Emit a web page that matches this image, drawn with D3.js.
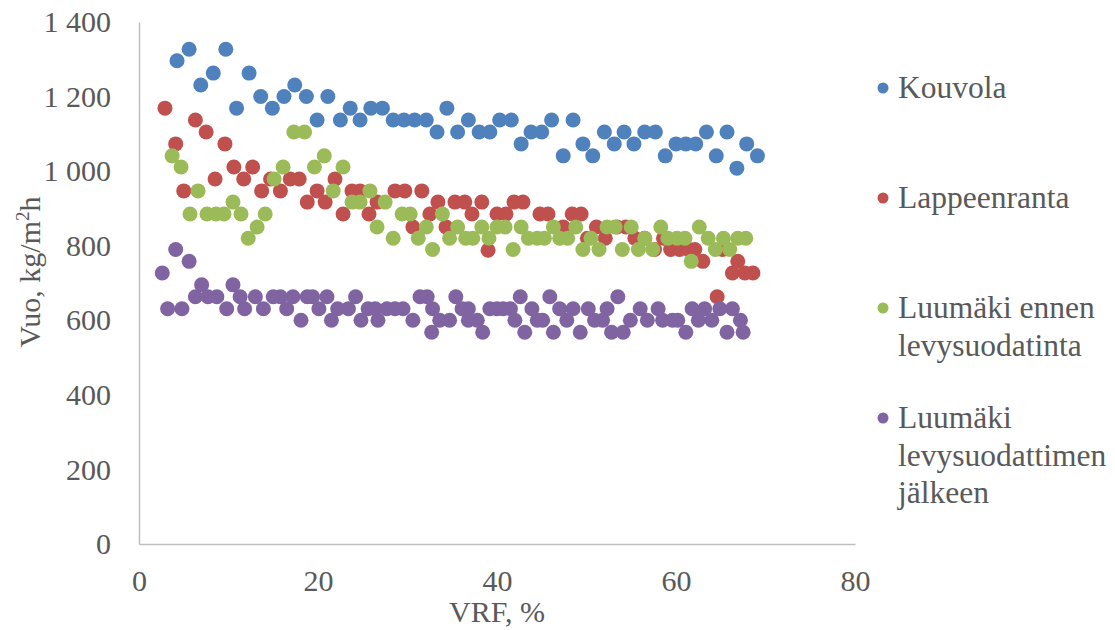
<!DOCTYPE html>
<html>
<head>
<meta charset="utf-8">
<script src="https://cdn.jsdelivr.net/npm/d3@7"></script>
<style>
  body { margin: 0; background: #fff; }
</style>
</head>
<body>
<svg id="chart" width="1115" height="630"></svg>
<script>
// VRF % / flux kg/m2h
const kouvola = [
  [4.25, 1296], [5.6, 1327], [6.9, 1231], [8.3, 1263], [9.7, 1327], [10.9, 1169], [12.3, 1263],
  [13.6, 1200], [14.9, 1169], [16.2, 1200], [17.4, 1231], [18.7, 1200], [19.9, 1137], [21.1, 1200],
  [22.5, 1137], [23.6, 1169], [24.7, 1137], [25.9, 1169], [27.2, 1169], [28.4, 1137], [29.6, 1137],
  [30.8, 1137], [32.1, 1137], [33.3, 1105], [34.4, 1169], [35.6, 1105], [36.8, 1137], [38.0, 1105],
  [39.2, 1105], [40.3, 1137], [41.6, 1137], [42.7, 1073], [43.8, 1105], [45.0, 1105], [46.1, 1137],
  [47.4, 1041], [48.5, 1137], [49.6, 1073], [50.7, 1041], [52.0, 1105], [53.1, 1073], [54.2, 1105],
  [55.3, 1073], [56.5, 1105], [57.7, 1105], [58.8, 1041], [60.0, 1073], [61.1, 1073], [62.2, 1073],
  [63.4, 1105], [64.5, 1041], [65.7, 1105], [66.8, 1008], [67.9, 1073], [69.1, 1041]
];

const lappeenranta = [
  [2.9, 1169], [4.1, 1073], [5.0, 947], [6.3, 1137], [7.5, 1105], [8.5, 979], [9.6, 1073],
  [10.6, 1011], [11.7, 979], [12.7, 1011], [13.7, 947], [14.7, 979], [15.8, 947], [16.9, 979],
  [17.9, 979], [18.8, 917], [19.9, 947], [20.8, 917], [21.9, 979], [22.8, 885], [23.8, 947],
  [24.7, 947], [25.7, 885], [26.6, 917], [28.6, 947], [29.7, 947], [30.6, 850], [31.6, 947],
  [32.5, 885], [33.4, 917], [34.3, 850], [35.3, 917], [36.4, 917], [37.2, 885], [38.3, 917],
  [39.0, 788], [40.0, 885], [41.0, 885], [41.9, 917], [42.9, 917], [44.8, 885], [45.7, 885],
  [47.4, 850], [48.4, 885], [49.4, 885], [50.1, 820], [51.1, 850], [52.1, 820], [53.4, 850],
  [54.4, 850], [55.4, 820], [56.5, 820], [57.6, 790], [58.6, 820], [59.4, 790], [60.4, 790],
  [61.4, 790], [62.1, 790], [63.0, 758], [64.6, 663], [65.2, 790], [66.3, 727], [66.9, 758],
  [67.7, 727], [68.6, 727]
];

const luumakiEnnen = [
  [3.7, 1041], [4.7, 1011], [5.7, 885], [6.6, 947], [7.6, 885], [8.6, 885], [9.5, 885],
  [10.5, 917], [11.4, 885], [12.2, 820], [13.2, 850], [14.1, 885], [15.1, 979], [16.1, 1011],
  [17.3, 1105], [18.5, 1105], [19.6, 1011], [20.7, 1041], [21.7, 947], [22.8, 1011], [23.8, 917],
  [24.7, 917], [25.8, 947], [26.6, 850], [27.5, 917], [28.4, 820], [29.4, 885], [30.3, 885],
  [31.2, 820], [32.1, 850], [32.8, 790], [33.9, 885], [34.7, 820], [35.6, 850], [36.5, 820],
  [37.3, 820], [38.3, 850], [39.1, 820], [40.0, 850], [40.9, 850], [41.8, 790], [42.7, 850],
  [43.5, 820], [44.5, 820], [45.3, 820], [46.3, 850], [47.0, 820], [47.9, 820], [48.8, 850],
  [49.6, 790], [50.5, 820], [51.4, 790], [52.3, 850], [53.2, 850], [54.0, 790], [55.0, 850],
  [55.8, 790], [56.5, 820], [57.4, 790], [58.3, 850], [59.1, 820], [60.1, 820], [61.0, 820],
  [61.7, 758], [62.6, 850], [63.6, 820], [64.4, 790], [65.3, 820], [66.0, 790], [66.9, 820],
  [67.8, 820]
];

const luumakiJalkeen = [
  [2.6, 727], [3.2, 631], [4.1, 790], [4.8, 631], [5.6, 758], [6.3, 663], [7.0, 695], [7.7, 663],
  [8.7, 663], [9.8, 631], [10.5, 695], [11.3, 663], [11.8, 631], [13.0, 663], [13.9, 631],
  [15.0, 663], [15.8, 663], [16.5, 631], [17.2, 663], [18.1, 600], [18.8, 663], [19.4, 663],
  [20.1, 631], [21.0, 663], [21.5, 600], [22.2, 631], [23.4, 631], [24.2, 663], [24.8, 600],
  [25.6, 631], [26.4, 631], [26.7, 600], [27.7, 631], [28.6, 631], [29.5, 631], [30.6, 600],
  [31.4, 663], [32.2, 663], [32.7, 568], [32.8, 631], [33.6, 600], [34.7, 600], [35.4, 663],
  [36.1, 631], [36.8, 631], [36.8, 600], [37.8, 600], [38.4, 568], [39.2, 631], [40.0, 631],
  [40.7, 631], [41.5, 631], [42.0, 600], [42.6, 663], [43.1, 568], [43.9, 631], [44.5, 600],
  [45.1, 600], [45.9, 663], [46.3, 568], [47.0, 631], [47.8, 600], [48.5, 631], [49.3, 568],
  [50.2, 631], [50.9, 600], [51.8, 600], [52.3, 631], [52.8, 568], [53.5, 663], [54.1, 568],
  [54.9, 600], [56.0, 631], [56.8, 600], [58.0, 631], [58.5, 600], [59.6, 600], [60.2, 600],
  [61.1, 568], [61.8, 631], [62.5, 600], [63.2, 631], [64.0, 600], [64.9, 631], [65.7, 568],
  [66.3, 631], [67.2, 600], [67.5, 568]
];

const seriesColors = ['#4f81bd', '#c0504d', '#9bbb59', '#8064a2'];
const yTicks = [0, 200, 400, 600, 800, 1000, 1200, 1400];
const xTicks = [0, 20, 40, 60, 80];

const FONT = "'Liberation Serif', 'DejaVu Serif', 'Times New Roman', serif";
const TXT = '#595959';

const svg = d3.select('#chart');
const margin = { left: 139, top: 22, right: 260, bottom: 86 };
const width = 1115 - margin.left - margin.right;
const height = 630 - margin.top - margin.bottom;

const x = d3.scaleLinear().domain([0, 80]).range([margin.left, margin.left + width]);
const y = d3.scaleLinear().domain([0, 1400]).range([margin.top + height, margin.top]);

const fmt = (d) => d3.format(',')(d).replace(',', ' ');

// axes
const xAxis = svg.append('g')
  .attr('transform', `translate(0,${margin.top + height})`)
  .call(d3.axisBottom(x).tickValues(xTicks).tickSize(0).tickPadding(26).tickFormat(d3.format('d')));
const yAxis = svg.append('g')
  .attr('transform', `translate(${margin.left},0)`)
  .call(d3.axisLeft(y).tickValues(yTicks).tickSize(0).tickPadding(28).tickFormat(fmt));

[xAxis, yAxis].forEach(a => {
  a.attr('font-family', FONT).attr('font-size', 30);
  a.select('.domain').attr('stroke', '#bfbfbf').attr('stroke-width', 1.5);
  a.selectAll('text').attr('fill', TXT);
});

// points
const allSeries = [kouvola, lappeenranta, luumakiEnnen, luumakiJalkeen];
allSeries.forEach((data, i) => {
  svg.append('g')
    .selectAll('circle')
    .data(data)
    .enter()
    .append('circle')
    .attr('cx', d => x(d[0]))
    .attr('cy', d => y(d[1]))
    .attr('r', 7.5)
    .attr('fill', seriesColors[i]);
});

// axis titles
svg.append('text')
  .attr('x', margin.left + width / 2)
  .attr('y', 622)
  .attr('text-anchor', 'middle')
  .attr('font-family', FONT).attr('font-size', 30).attr('fill', TXT)
  .text('VRF, %');

const yTitle = svg.append('text')
  .attr('transform', 'translate(40,272) rotate(-90)')
  .attr('text-anchor', 'middle')
  .attr('font-family', FONT).attr('font-size', 30).attr('fill', TXT);
yTitle.append('tspan').text('Vuo, kg/m');
yTitle.append('tspan').attr('dy', -11).attr('font-size', 19).text('2');
yTitle.append('tspan').attr('dy', 11).text('h');

// legend
const legendLines = [
  ['Kouvola'],
  ['Lappeenranta'],
  ['Luumäki ennen', 'levysuodatinta'],
  ['Luumäki', 'levysuodattimen', 'jälkeen']
];
const legendTops = [98, 208, 318, 428];
const legend = svg.append('g');
legendLines.forEach((lines, i) => {
  legend.append('circle')
    .attr('cx', 883)
    .attr('cy', legendTops[i] - 10)
    .attr('r', 5.5)
    .attr('fill', seriesColors[i]);
  const t = legend.append('text')
    .attr('x', 898)
    .attr('y', legendTops[i])
    .attr('font-family', FONT).attr('font-size', 31.5).attr('fill', TXT);
  lines.forEach((line, j) => {
    t.append('tspan').attr('x', 898).attr('dy', j === 0 ? 0 : 37.5).text(line);
  });
});
</script>
</body>
</html>
